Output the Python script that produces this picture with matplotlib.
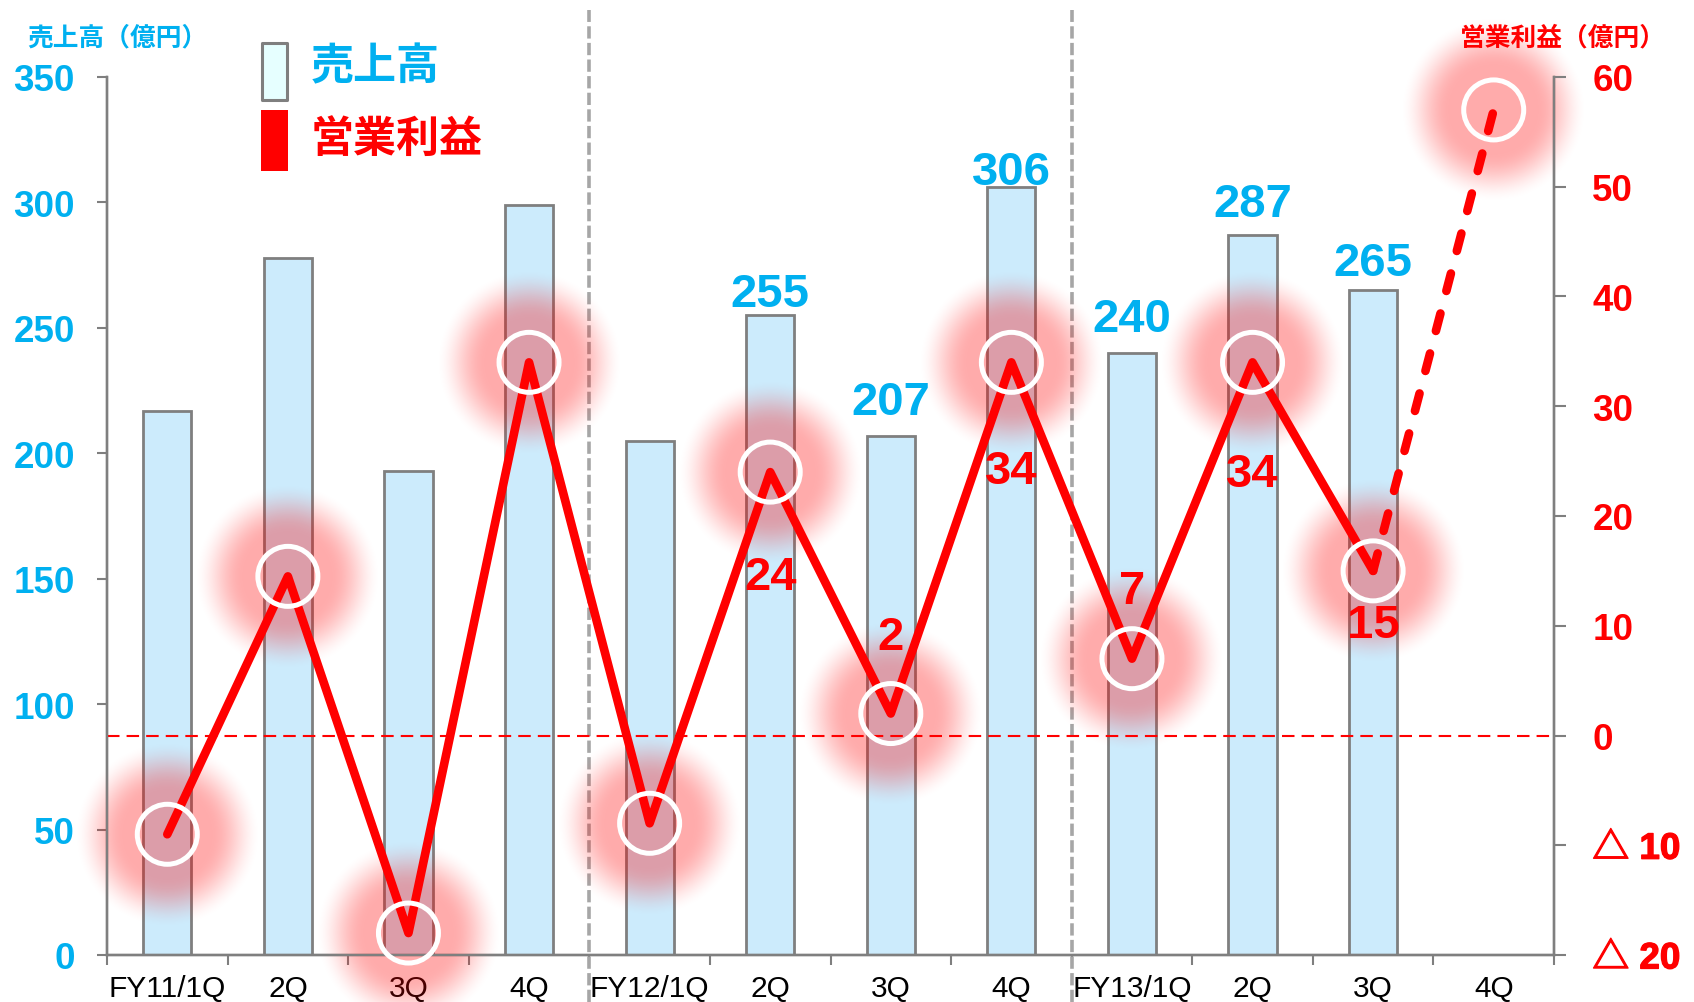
import numpy as np
import matplotlib
matplotlib.use("Agg")
import matplotlib.pyplot as plt
import matplotlib.patheffects as pe
from matplotlib.patches import Rectangle
from matplotlib.offsetbox import OffsetImage, AnnotationBbox
from matplotlib.ticker import FixedLocator, FuncFormatter

# ---------------- data ----------------
categories = ["FY11/1Q", "2Q", "3Q", "4Q", "FY12/1Q", "2Q", "3Q", "4Q",
              "FY13/1Q", "2Q", "3Q", "4Q"]
sales = [217, 278, 193, 299, 205, 255, 207, 306, 240, 287, 265]          # 億円
profit = [-9, 14.5, -18, 34, -8, 24, 2, 34, 7, 34, 15, 57]                # 億円 (last = forecast)
sales_label_idx = [5, 6, 7, 8, 9, 10]
sales_label_off_px = [-1, 12, -7, 12, 9, 5]             # label placement (px above bar)
profit_label_idx = [5, 6, 7, 8, 9, 10]
profit_label_off_px = [-105, 77, -109, 68, -112, -54]   # label placement (px, + above)
right_ticks = [-20, -10, 0, 10, 20, 30, 40, 50, 60]
left_ticks = [0, 50, 100, 150, 200, 250, 300, 350]

BLUE = "#00B0F0"
RED = "#FF0000"
GRAY = "#7F7F7F"

plt.rcParams["font.family"] = ["Liberation Sans", "DejaVu Sans"]
JP = ["Noto Sans CJK JP", "DejaVu Sans"]
PX = 0.72  # points per pixel at dpi 100

W, H = 1694, 1003
fig = plt.figure(figsize=(W / 100, H / 100), dpi=100)
L, R, T, B = 107, 1554, 78, 956
ax = fig.add_axes([L / W, 1 - B / H, (R - L) / W, (B - T) / H])
ax2 = ax.twinx()

x = np.arange(len(categories))
xs = np.arange(len(sales))

# bars
ax.bar(xs, sales, width=0.40, color="#CCEBFC", edgecolor=GRAY, linewidth=2.0, zorder=2)
ax.set_xlim(-0.5, len(categories) - 0.5)
ax.set_ylim(0, 350)
ax2.set_ylim(-20, 60)

# sales labels
for i, off in zip(sales_label_idx, sales_label_off_px):
    ax.annotate(f"{sales[i]}", (xs[i], sales[i]), xytext=(0, off * PX),
                textcoords="offset points", ha="center", va="bottom",
                color=BLUE, fontsize=34, fontweight="bold", zorder=5)

# separators
yb = (B - H) / (B - T)
yt = (B - 11) / (B - T)
for bnd in [3.5, 7.5]:
    ax.plot([bnd, bnd], [yb, yt], transform=ax.get_xaxis_transform(), clip_on=False,
            color="#A6A6A6", lw=2.6, linestyle=(0, (3.4, 1.2)), zorder=3)

# glow
N = 201
yy, xx = np.mgrid[0:N, 0:N]
rr = np.hypot(xx - N // 2, yy - N // 2)
t = np.clip((rr - 44) / 50, 0, 1)
alpha = 0.33 * (1 - t * t * (3 - 2 * t))
img = np.zeros((N, N, 4))
img[..., 0] = 1.0
img[..., 3] = alpha
for xi, yi in zip(x, profit):
    ab = AnnotationBbox(OffsetImage(img, zoom=PX), (xi, yi), xycoords="data",
                        frameon=False, pad=0, annotation_clip=False, zorder=1)
    ax2.add_artist(ab)

# zero line
ax2.axhline(0, color=RED, lw=1.5, linestyle=(0, (6.0, 3.4)), zorder=2)

# profit line
ax2.plot(x[:-1], profit[:-1], color=RED, lw=6.2, solid_capstyle="round",
         solid_joinstyle="round", zorder=3)
ax2.plot(x[-2:], profit[-2:], color=RED, lw=6.2, linestyle=(0, (2.1, 2.7)),
         dash_capstyle="round", zorder=3)

# circles
ax2.scatter(x, profit, s=(60 * PX) ** 2, facecolors="none", edgecolors="white",
            linewidths=3.6, zorder=4, clip_on=False)

# profit labels
for i, off in zip(profit_label_idx, profit_label_off_px):
    ax2.annotate(f"{profit[i]}", (x[i], profit[i]), xytext=(0, off * PX),
                 textcoords="offset points", ha="center", va="center",
                 color=RED, fontsize=34, fontweight="bold", zorder=5)

# axes styling
for a in (ax, ax2):
    a.spines["top"].set_visible(False)
    for s in ("left", "right", "bottom"):
        a.spines[s].set_color(GRAY)
        a.spines[s].set_linewidth(1.7)

ax.set_xticks(x)
ax.set_xticklabels(categories, fontsize=21.5, color="black")
ax.xaxis.set_minor_locator(FixedLocator(np.arange(-0.5, len(categories), 1.0)))
ax.tick_params(axis="x", which="major", length=0, pad=14)
ax.tick_params(axis="x", which="minor", length=10 * PX, width=1.5, color=GRAY, direction="out")

ax.set_yticks(left_ticks)
ax.tick_params(axis="y", length=10 * PX, width=1.5, color=GRAY, direction="out",
               pad=16, labelsize=26.5, labelcolor=BLUE)
for lab in ax.get_yticklabels():
    lab.set_fontweight("bold")

ax2.set_yticks(right_ticks)
ax2.yaxis.set_major_formatter(FuncFormatter(lambda v, p: f"△ {abs(int(v))}" if v < 0 else f"{int(v)}"))
ax2.tick_params(axis="y", length=12 * PX, width=1.5, color=GRAY, direction="out",
                pad=19, labelsize=26.5, labelcolor=RED)
for v, tk in zip(right_ticks, ax2.yaxis.get_major_ticks()):
    lab = tk.label2
    lab.set_fontweight("bold")
    lab.set_fontfamily(["Liberation Sans", "Noto Sans CJK JP"])
    lab.set_horizontalalignment("left")
    if v < 0:
        lab.set_path_effects([pe.withStroke(linewidth=0.9, foreground=RED)])

# axis titles
fig.text(27 / W, 1 - 38 / H, "売上高（億円）", color=BLUE, fontsize=18.5, fontweight="bold",
         family=JP, ha="left", va="center")
fig.text(1563 / W, 1 - 38 / H, "営業利益（億円）", color=RED, fontsize=18.5, fontweight="bold",
         family=JP, ha="center", va="center")

# legend
fig.patches.append(Rectangle((262 / W, 1 - 101 / H), 25 / W, 57 / H, transform=fig.transFigure,
                             facecolor="#E6FFFF", edgecolor=GRAY, linewidth=2.2, joinstyle="round"))
fig.patches.append(Rectangle((261 / W, 1 - 172 / H), 27 / W, 61 / H, transform=fig.transFigure,
                             facecolor=RED, edgecolor="none"))
fig.text(311 / W, 1 - 66 / H, "売上高", color=BLUE, fontsize=31, fontweight="bold",
         family=JP, ha="left", va="center")
fig.text(311 / W, 1 - 139 / H, "営業利益", color=RED, fontsize=31, fontweight="bold",
         family=JP, ha="left", va="center")

fig.savefig("out.png", dpi=100)
